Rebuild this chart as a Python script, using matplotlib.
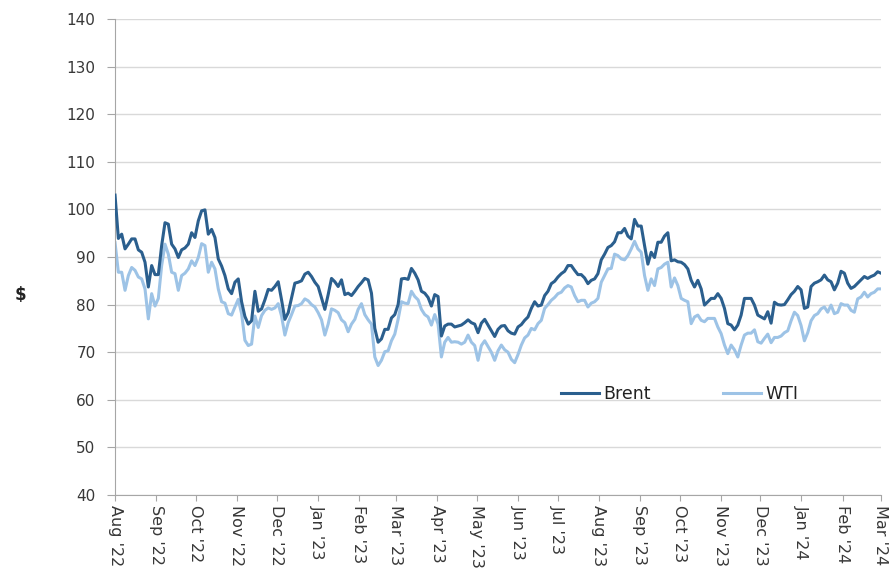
import numpy as np
import pandas as pd
import matplotlib
matplotlib.use("Agg")
import matplotlib.pyplot as plt
import matplotlib.dates as mdates

# readings, evenly spaced from 1 Aug 2022 to 1 Mar 2024
brent = [
    103, 93.9, 94.8, 91.7, 92.7, 93.8, 93.8, 91.5, 91.0, 88.9, 83.7, 88.2, 86.3, 86.3, 92.4, 97.2, 96.9, 92.7, 91.7, 89.9,
    91.5, 91.9, 92.7, 95.1, 94.1, 97.6, 99.7, 99.9, 94.8, 95.8, 94.1, 89.6, 88.1, 86.1, 83.3, 82.3, 84.7, 85.4, 80.6, 77.5,
    75.9, 76.6, 82.8, 78.6, 79.1, 81.0, 83.2, 83.0, 83.8, 84.8, 81.0, 76.9, 78.3, 81.4, 84.5, 84.7, 85.0, 86.4, 86.8, 85.9,
    84.7, 83.8, 81.4, 79.0, 82.1, 85.5, 84.8, 83.8, 85.2, 82.1, 82.4, 81.9, 82.8, 83.8, 84.6, 85.5, 85.2, 82.4, 75.0,
    72.1, 72.8, 74.8, 74.8, 77.2, 77.9, 80.0, 85.4, 85.5, 85.3, 87.6, 86.6, 85.2, 82.8, 82.4, 81.5, 79.7, 82.1, 81.7, 73.4,
    75.5, 75.9, 75.9, 75.3, 75.5, 75.7, 76.2, 76.8, 76.2, 75.9, 74.1, 76.1, 76.9, 75.7, 74.5, 73.3, 74.8, 75.5, 75.6,
    74.5, 74.0, 73.8, 75.3, 75.8, 76.7, 77.4, 79.2, 80.6, 79.7, 79.9, 81.9, 82.8, 84.4, 84.9, 85.8, 86.5, 87.0, 88.2, 88.2,
    87.2, 86.3, 86.3, 85.6, 84.4, 85.1, 85.4, 86.5, 89.4, 90.6, 92.0, 92.4, 93.2, 95.1, 95.1, 96.0, 94.4, 93.8, 97.9,
    96.5, 96.5, 92.4, 88.5, 91.0, 89.9, 93.1, 93.1, 94.4, 95.1, 89.2, 89.4, 89.0, 88.9, 88.4, 87.5, 85.1, 83.7, 85.1, 83.3,
    79.9, 80.6, 81.3, 81.3, 82.3, 81.3, 79.2, 76.0, 75.7, 74.7, 75.7, 77.8, 81.3, 81.3, 81.3, 79.9, 77.8, 77.4, 77.0,
    78.5, 76.1, 80.5, 80.0, 79.9, 80.0, 81.0, 82.1, 82.8, 83.8, 83.1, 79.2, 79.5, 83.8, 84.5, 84.8, 85.2, 86.2, 85.2, 84.8,
    83.1, 84.5, 87.0, 86.6, 84.5, 83.4, 83.8, 84.5, 85.2, 85.9, 85.5, 85.9, 86.2, 86.9, 86.6,
]
wti = [
    93, 86.8, 86.8, 83, 86.1, 87.8, 87.2, 85.8, 85.4, 83.3, 77, 82.3, 79.7, 81.3, 88.2, 92.7, 90.6, 86.8, 86.5, 83.0,
    86.1, 86.6, 87.5, 89.2, 88.2, 89.9, 92.8, 92.4, 86.8, 88.9, 87.5, 83.3, 80.6, 80.3, 78.1, 77.8, 79.5, 81.1, 78.1, 72.5,
    71.4, 71.7, 77.6, 75.2, 77.7, 78.8, 79.3, 79.0, 79.3, 80.2, 77.6, 73.6, 76.2, 77.9, 79.7, 79.8, 80.2, 81.2, 80.8, 80.0,
    79.5, 78.3, 76.8, 73.6, 75.9, 79.1, 78.8, 78.3, 76.8, 76.2, 74.3, 75.9, 76.9, 79.0, 80.2, 77.9, 76.8, 75.9, 69.0,
    67.2, 68.3, 70.1, 70.3, 72.4, 73.8, 76.9, 80.6, 80.3, 80.2, 82.8, 81.7, 81.0, 79.0, 77.9, 77.4, 75.7, 77.9, 75.9, 69.0,
    72.1, 73.1, 72.1, 72.2, 72.1, 71.7, 72.1, 73.6, 72.1, 71.4, 68.3, 71.4, 72.4, 71.2, 70.0, 68.3, 70.3, 71.5, 70.5,
    70.0, 68.5, 67.8, 69.5, 71.5, 73.0, 73.6, 75.0, 74.7, 76.0, 76.7, 79.2, 80.0, 80.9, 81.5, 82.3, 82.6, 83.5, 84.0, 83.7,
    81.9, 80.6, 80.9, 80.9, 79.5, 80.3, 80.6, 81.3, 84.7, 86.1, 87.5, 87.6, 90.6, 90.3, 89.6, 89.4, 90.3, 91.7, 93.3,
    91.7, 91.0, 86.1, 83.0, 85.4, 84.0, 87.5, 87.8, 88.5, 88.9, 83.7, 85.6, 84.0, 81.3, 80.9, 80.6, 76.0, 77.4, 77.8, 76.7,
    76.4, 77.1, 77.1, 77.1, 75.3, 73.9, 71.5, 69.7, 71.5, 70.5, 69.0, 71.5, 73.6, 74.0, 74.0, 74.7, 72.2, 71.9, 72.9,
    73.8, 72.0, 73.1, 73.1, 73.4, 74.1, 74.5, 76.6, 78.4, 77.7, 75.6, 72.4, 74.1, 76.6, 77.7, 78.1, 79.1, 79.5, 78.4, 79.9,
    78.1, 78.4, 80.2, 79.9, 79.9, 78.8, 78.4, 81.2, 81.6, 82.6, 81.6, 82.3, 82.6, 83.3, 83.3,
]
series_names = ["Brent", "WTI"]
start, end = "2022-08-01", "2024-03-01"
dates = pd.date_range(start, end, periods=len(brent))

plt.rcParams["font.family"] = ["DejaVu Sans"]
text_col = "#383838"

fig = plt.figure(figsize=(8.89, 5.72), dpi=100)
ax = fig.add_axes([0.1294, 0.1346, 0.991 - 0.1294, 0.9668 - 0.1346])

ax.plot(dates, brent, color="#2b5f8e", lw=2.2, label=series_names[0], zorder=3)
ax.plot(dates, wti, color="#9dc3e6", lw=2.2, label=series_names[1], zorder=2)

ax.set_xlim(pd.Timestamp(start), pd.Timestamp(end))
ax.set_ylim(40, 140)
ax.set_yticks(np.arange(40, 141, 10))
ax.grid(axis="y", color="#d9d9d9", lw=1)
ax.set_axisbelow(True)

ax.xaxis.set_major_locator(mdates.MonthLocator())
ax.xaxis.set_major_formatter(mdates.DateFormatter("%b '%y"))

for s in ["top", "right"]:
    ax.spines[s].set_visible(False)
for s in ["left", "bottom"]:
    ax.spines[s].set_color("#a6a6a6")
ax.tick_params(axis="y", colors="#a6a6a6", labelcolor=text_col, labelsize=11, length=6, pad=8)
ax.tick_params(axis="x", colors="#a6a6a6", labelcolor=text_col, labelsize=11.5, length=4, pad=3)
for lab in ax.get_xticklabels():
    lab.set_rotation(270)
    lab.set_ha("center")
    lab.set_va("top")

fig.text(0.016, 0.485, "$", fontsize=12, fontweight="bold", color="#222222", va="center")

ax.legend(loc="center", bbox_to_anchor=(0.737, 0.212), ncol=2, frameon=False,
          fontsize=12.5, handlelength=2.2, columnspacing=4.2, handletextpad=0.2,
          labelcolor="#222222")

fig.savefig("out.png", dpi=100)
